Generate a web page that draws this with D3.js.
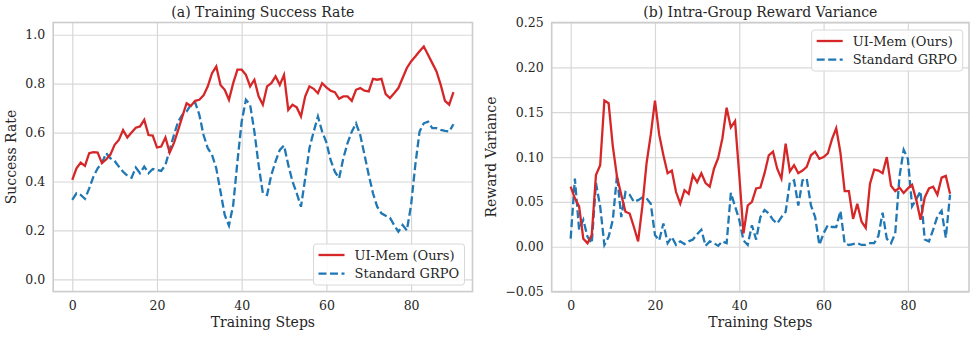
<!DOCTYPE html>
<html>
<head>
<meta charset="utf-8">
<script src="https://cdn.jsdelivr.net/npm/d3@7"></script>
<style>
  body { margin: 0; background: #fff; }
  text { font-family: "DejaVu Serif", serif; fill: #262626; }
</style>
</head>
<body>
<svg width="977" height="337"></svg>
<script>
// training steps 0..90
const steps = d3.range(0, 91)

// (a) success rate
const successMem = [
  0.407, 0.454, 0.477, 0.464, 0.516, 0.52, 0.518, 0.475, 0.49, 0.51,
  0.55, 0.57, 0.61, 0.58, 0.60, 0.62, 0.625, 0.652, 0.59, 0.588,
  0.539, 0.543, 0.58, 0.518, 0.557, 0.61, 0.666, 0.72, 0.709, 0.73,
  0.734, 0.752, 0.789, 0.843, 0.87, 0.795, 0.775, 0.734, 0.802, 0.857,
  0.857, 0.836, 0.789, 0.816, 0.748, 0.714, 0.789, 0.802, 0.83, 0.795,
  0.836, 0.693, 0.714, 0.703, 0.666, 0.748, 0.789, 0.779, 0.761, 0.802,
  0.785, 0.771, 0.765, 0.738, 0.748, 0.748, 0.73, 0.775, 0.782, 0.771,
  0.768, 0.82, 0.816, 0.82, 0.757, 0.741, 0.761, 0.782, 0.823, 0.864,
  0.891, 0.911, 0.932, 0.952, 0.918, 0.884, 0.85, 0.795, 0.73, 0.714,
  0.765
]
const successGrpo = [
  0.325, 0.352, 0.345, 0.329, 0.372, 0.42, 0.454, 0.475, 0.516, 0.495,
  0.484, 0.461, 0.44, 0.424, 0.416, 0.457, 0.434, 0.461, 0.434, 0.451,
  0.447, 0.443, 0.468, 0.529, 0.59, 0.645, 0.673, 0.686, 0.714, 0.724,
  0.673, 0.59, 0.536, 0.509, 0.454, 0.359, 0.263, 0.22, 0.304, 0.482,
  0.645, 0.734, 0.714, 0.604, 0.468, 0.352, 0.345, 0.427, 0.482, 0.529,
  0.547, 0.468, 0.4, 0.352, 0.297, 0.413, 0.536, 0.604, 0.666, 0.604,
  0.56, 0.488, 0.44, 0.413, 0.495, 0.557, 0.604, 0.638, 0.59, 0.509,
  0.427, 0.352, 0.297, 0.27, 0.26, 0.252, 0.222, 0.195, 0.222, 0.2,
  0.304, 0.468, 0.604, 0.638, 0.645, 0.618, 0.618, 0.611, 0.607, 0.604,
  0.634
]

// (b) reward variance
const varianceMem = [
  0.067, 0.054, 0.045, 0.009, 0.004, 0.013, 0.080, 0.091, 0.163, 0.160,
  0.112, 0.078, 0.058, 0.039, 0.037, 0.022, 0.006, 0.045, 0.093, 0.125,
  0.163, 0.125, 0.102, 0.082, 0.085, 0.061, 0.048, 0.063, 0.059, 0.080,
  0.072, 0.082, 0.071, 0.067, 0.087, 0.099, 0.121, 0.155, 0.133, 0.140,
  0.080, 0.015, 0.046, 0.050, 0.065, 0.066, 0.082, 0.102, 0.106, 0.087,
  0.076, 0.115, 0.084, 0.091, 0.082, 0.085, 0.089, 0.102, 0.106, 0.098,
  0.100, 0.104, 0.120, 0.132, 0.105, 0.062, 0.062, 0.031, 0.048, 0.028,
  0.021, 0.070, 0.086, 0.085, 0.082, 0.100, 0.068, 0.062, 0.066, 0.060,
  0.065, 0.069, 0.052, 0.030, 0.055, 0.065, 0.067, 0.058, 0.077, 0.079,
  0.059
]
const varianceGrpo = [
  0.009, 0.076, 0.019, 0.030, 0.011, 0.004, 0.071, 0.045, 0.002, 0.011,
  0.030, 0.080, 0.033, 0.061, 0.058, 0.050, 0.052, 0.055, 0.054, 0.048,
  0.013, 0.007, 0.026, 0.004, 0.011, 0.002, 0.006, 0.003, 0.006, 0.008,
  0.014, 0.019, 0.001, 0.006, 0.004, 0.001, 0.006, 0.004, 0.060, 0.045,
  0.030, 0.007, 0.002, 0.024, 0.008, 0.033, 0.041, 0.037, 0.030, 0.026,
  0.033, 0.039, 0.072, 0.074, 0.046, 0.074, 0.076, 0.046, 0.033, 0.002,
  0.015, 0.024, 0.022, 0.022, 0.040, 0.004, 0.002, 0.003, 0.004, 0.002,
  0.002, 0.004, 0.004, 0.012, 0.038, 0.009, 0.004, 0.015, 0.078, 0.108,
  0.098, 0.045, 0.053, 0.062, 0.008, 0.006, 0.019, 0.034, 0.040, 0.010,
  0.058
]

const seriesNames = ['UI-Mem (Ours)', 'Standard GRPO']
const xTicks = [0, 20, 40, 60, 80]
const successTicks = [0, 0.2, 0.4, 0.6, 0.8, 1.0]
const varianceTicks = [-0.05, 0, 0.05, 0.10, 0.15, 0.20, 0.25]

const red = '#d62728', blue = '#1f77b4', gridColor = '#d8d8d8'

let svg = d3.select('svg')

function panel(opts) {
  let g = svg.append('g')
  let x = d3.scaleLinear().domain([-4.5, 94.5]).range([opts.left, opts.right])
  let y = d3.scaleLinear().domain(opts.ydomain).range([291.6, 22.5])

  // grid
  g.append('g')
    .attr('transform', 'translate(0,' + 291.6 + ')')
    .call(d3.axisBottom(x).tickValues(xTicks).tickSize(-(291.6 - 22.5)).tickPadding(10))
    .call(a => a.select('.domain').remove())
    .call(a => a.selectAll('line').attr('stroke', gridColor).attr('stroke-width', 1.2))
    .call(a => a.selectAll('text').attr('font-size', 12.5).attr('font-family', 'DejaVu Serif').attr('fill', '#262626'))

  g.append('g')
    .attr('transform', 'translate(' + opts.left + ',0)')
    .call(d3.axisLeft(y).tickValues(opts.yticks).tickFormat(opts.yfmt)
      .tickSize(-(opts.right - opts.left)).tickPadding(8))
    .call(a => a.select('.domain').remove())
    .call(a => a.selectAll('line').attr('stroke', gridColor).attr('stroke-width', 1.2))
    .call(a => a.selectAll('text').attr('font-size', 12.5).attr('font-family', 'DejaVu Serif').attr('fill', '#262626'))

  // frame
  g.append('rect')
    .attr('x', opts.left).attr('y', 22.5)
    .attr('width', opts.right - opts.left).attr('height', 291.6 - 22.5)
    .attr('fill', 'none').attr('stroke', '#cccccc').attr('stroke-width', 1.6)

  let line = d3.line().x((d, i) => x(steps[i])).y(d => y(d))

  g.append('path').datum(opts.grpo)
    .attr('d', line).attr('fill', 'none')
    .attr('stroke', blue).attr('stroke-width', 2.3).attr('stroke-dasharray', '8,3.5')
  g.append('path').datum(opts.mem)
    .attr('d', line).attr('fill', 'none')
    .attr('stroke', red).attr('stroke-width', 2.3)

  // titles
  g.append('text')
    .attr('x', (opts.left + opts.right) / 2).attr('y', 16.5)
    .attr('text-anchor', 'middle').attr('font-size', 14)
    .text(opts.title)
  g.append('text')
    .attr('x', (opts.left + opts.right) / 2).attr('y', 327)
    .attr('text-anchor', 'middle').attr('font-size', 14)
    .text('Training Steps')
  g.append('text')
    .attr('transform', 'translate(' + opts.ylabelX + ',' + (22.5 + 291.6) / 2 + ') rotate(-90)')
    .attr('text-anchor', 'middle').attr('font-size', 14)
    .text(opts.ylabel)

  // legend
  let lg = g.append('g').attr('transform', 'translate(' + opts.legend[0] + ',' + opts.legend[1] + ')')
  lg.append('rect')
    .attr('width', 151).attr('height', 41).attr('rx', 3)
    .attr('fill', 'white').attr('fill-opacity', 0.85)
    .attr('stroke', '#d8d8d8').attr('stroke-width', 1)
  seriesNames.forEach((name, i) => {
    let yy = 11 + i * 18.6
    lg.append('line')
      .attr('x1', 5).attr('x2', 31).attr('y1', yy).attr('y2', yy)
      .attr('stroke', i === 0 ? red : blue).attr('stroke-width', 2.3)
      .attr('stroke-dasharray', i === 0 ? null : '8,3.5')
    lg.append('text')
      .attr('x', 41).attr('y', yy + 4.5)
      .attr('font-size', 13)
      .text(name)
  })
}

panel({
  left: 53.2, right: 472.5, ydomain: [-0.05, 1.05],
  yticks: successTicks, yfmt: d3.format('.1f'),
  mem: successMem, grpo: successGrpo,
  title: '(a) Training Success Rate', ylabel: 'Success Rate', ylabelX: 16,
  legend: [313.5, 244]
})

panel({
  left: 551.7, right: 969, ydomain: [-0.05, 0.25],
  yticks: varianceTicks, yfmt: d => d3.format('.2f')(d).replace('-', '\u2212'),
  mem: varianceMem, grpo: varianceGrpo,
  title: '(b) Intra-Group Reward Variance', ylabel: 'Reward Variance', ylabelX: 496,
  legend: [811.7, 30]
})
</script>
</body>
</html>
